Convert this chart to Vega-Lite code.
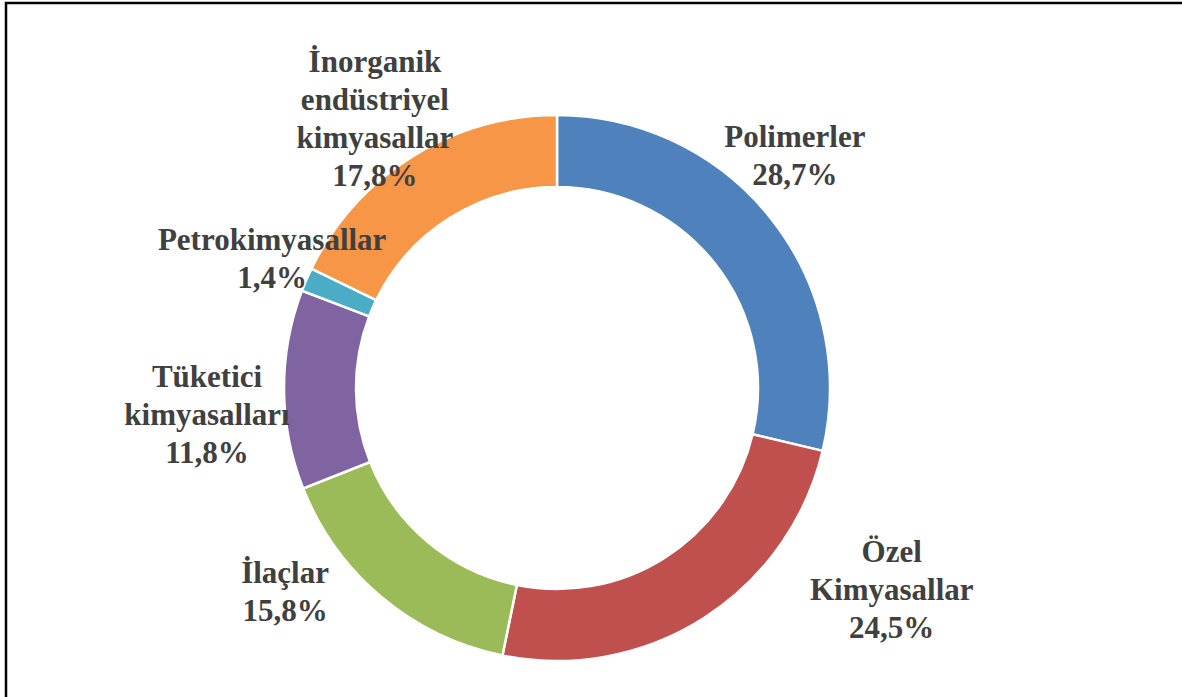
{
  "$schema": "https://vega.github.io/schema/vega-lite/v6.json",
  "width": 1182,
  "height": 697,
  "autosize": "none",
  "padding": {"left": 6, "top": 3, "right": -6, "bottom": -3},
  "background": "white",
  "config": {"view": {"stroke": null}},
  "data": {
    "values": [
      {"i": 1, "kategori": "Polimerler", "ad": "Polimerler", "pay": 28.7},
      {"i": 2, "kategori": "Özel Kimyasallar", "ad": "Özel|Kimyasallar", "pay": 24.5},
      {"i": 3, "kategori": "İlaçlar", "ad": "İlaçlar", "pay": 15.8},
      {"i": 4, "kategori": "Tüketici kimyasalları", "ad": "Tüketici|kimyasalları", "pay": 11.8},
      {"i": 5, "kategori": "Petrokimyasallar", "ad": "Petrokimyasallar", "pay": 1.4},
      {"i": 6, "kategori": "İnorganik endüstriyel kimyasallar", "ad": "İnorganik|endüstriyel|kimyasallar", "pay": 17.8}
    ]
  },
  "transform": [
    {"calculate": "datum.ad + '|' + replace(format(datum.pay, '.1f'), '.', ',') + '%'", "as": "etiket"}
  ],
  "layer": [
    {
      "data": {"values": [{"cerceve": 1}]},
      "mark": {"type": "rect", "x": 0, "y": 0, "x2": "width", "y2": "height", "fill": null, "fillOpacity": 0, "stroke": "black", "strokeWidth": 2.5},
      "encoding": {}
    },
    {
      "mark": {"type": "arc", "outerRadius": 273, "innerRadius": 201, "x": 551, "y": 385, "stroke": "white", "strokeWidth": 2.5},
      "encoding": {
        "theta": {"field": "pay", "type": "quantitative", "stack": true},
        "order": {"field": "i", "type": "quantitative"},
        "color": {
          "field": "kategori",
          "type": "nominal",
          "legend": null,
          "scale": {
            "domain": ["Polimerler", "Özel Kimyasallar", "İlaçlar", "Tüketici kimyasalları", "Petrokimyasallar", "İnorganik endüstriyel kimyasallar"],
            "range": ["#4F81BD", "#C0504D", "#9BBB59", "#8064A2", "#4BACC6", "#F79646"]
          }
        }
      }
    },
    {
      "mark": {"type": "text", "radius": 330, "x": 551, "y": 385, "dx": -21, "dy": -45, "font": "Liberation Serif", "fontSize": 31, "fontWeight": "bold", "fill": "#404040", "lineBreak": "|", "lineHeight": 38, "align": "center", "baseline": "middle"},
      "encoding": {
        "theta": {"field": "pay", "type": "quantitative", "stack": true},
        "order": {"field": "i", "type": "quantitative"},
        "text": {"condition": {"test": "datum.kategori === 'Polimerler'", "field": "etiket"}, "value": ""}
      }
    },
    {
      "mark": {"type": "text", "radius": 330, "x": 551, "y": 385, "dx": 157, "dy": -113, "font": "Liberation Serif", "fontSize": 31, "fontWeight": "bold", "fill": "#404040", "lineBreak": "|", "lineHeight": 38, "align": "center", "baseline": "middle"},
      "encoding": {
        "theta": {"field": "pay", "type": "quantitative", "stack": true},
        "order": {"field": "i", "type": "quantitative"},
        "text": {"condition": {"test": "datum.kategori === 'Özel Kimyasallar'", "field": "etiket"}, "value": ""}
      }
    },
    {
      "mark": {"type": "text", "radius": 330, "x": 551, "y": 385, "dx": -60, "dy": -67, "font": "Liberation Serif", "fontSize": 31, "fontWeight": "bold", "fill": "#404040", "lineBreak": "|", "lineHeight": 38, "align": "center", "baseline": "middle"},
      "encoding": {
        "theta": {"field": "pay", "type": "quantitative", "stack": true},
        "order": {"field": "i", "type": "quantitative"},
        "text": {"condition": {"test": "datum.kategori === 'İlaçlar'", "field": "etiket"}, "value": ""}
      }
    },
    {
      "mark": {"type": "text", "radius": 330, "x": 551, "y": 385, "dx": -20, "dy": -12, "font": "Liberation Serif", "fontSize": 31, "fontWeight": "bold", "fill": "#404040", "lineBreak": "|", "lineHeight": 38, "align": "center", "baseline": "middle"},
      "encoding": {
        "theta": {"field": "pay", "type": "quantitative", "stack": true},
        "order": {"field": "i", "type": "quantitative"},
        "text": {"condition": {"test": "datum.kategori === 'Tüketici kimyasalları'", "field": "etiket"}, "value": ""}
      }
    },
    {
      "mark": {"type": "text", "radius": 330, "x": 551, "y": 385, "dx": 18, "dy": -16, "font": "Liberation Serif", "fontSize": 31, "fontWeight": "bold", "fill": "#404040", "lineBreak": "|", "lineHeight": 38, "align": "center", "baseline": "middle"},
      "encoding": {
        "theta": {"field": "pay", "type": "quantitative", "stack": true},
        "order": {"field": "i", "type": "quantitative"},
        "text": {"condition": {"test": "datum.kategori === 'Petrokimyasallar'", "field": "etiket"}, "value": ""}
      }
    },
    {
      "mark": {"type": "text", "radius": 330, "x": 551, "y": 385, "dx": -7, "dy": -45, "font": "Liberation Serif", "fontSize": 31, "fontWeight": "bold", "fill": "#404040", "lineBreak": "|", "lineHeight": 38, "align": "center", "baseline": "middle"},
      "encoding": {
        "theta": {"field": "pay", "type": "quantitative", "stack": true},
        "order": {"field": "i", "type": "quantitative"},
        "text": {"condition": {"test": "datum.kategori === 'İnorganik endüstriyel kimyasallar'", "field": "etiket"}, "value": ""}
      }
    }
  ]
}
